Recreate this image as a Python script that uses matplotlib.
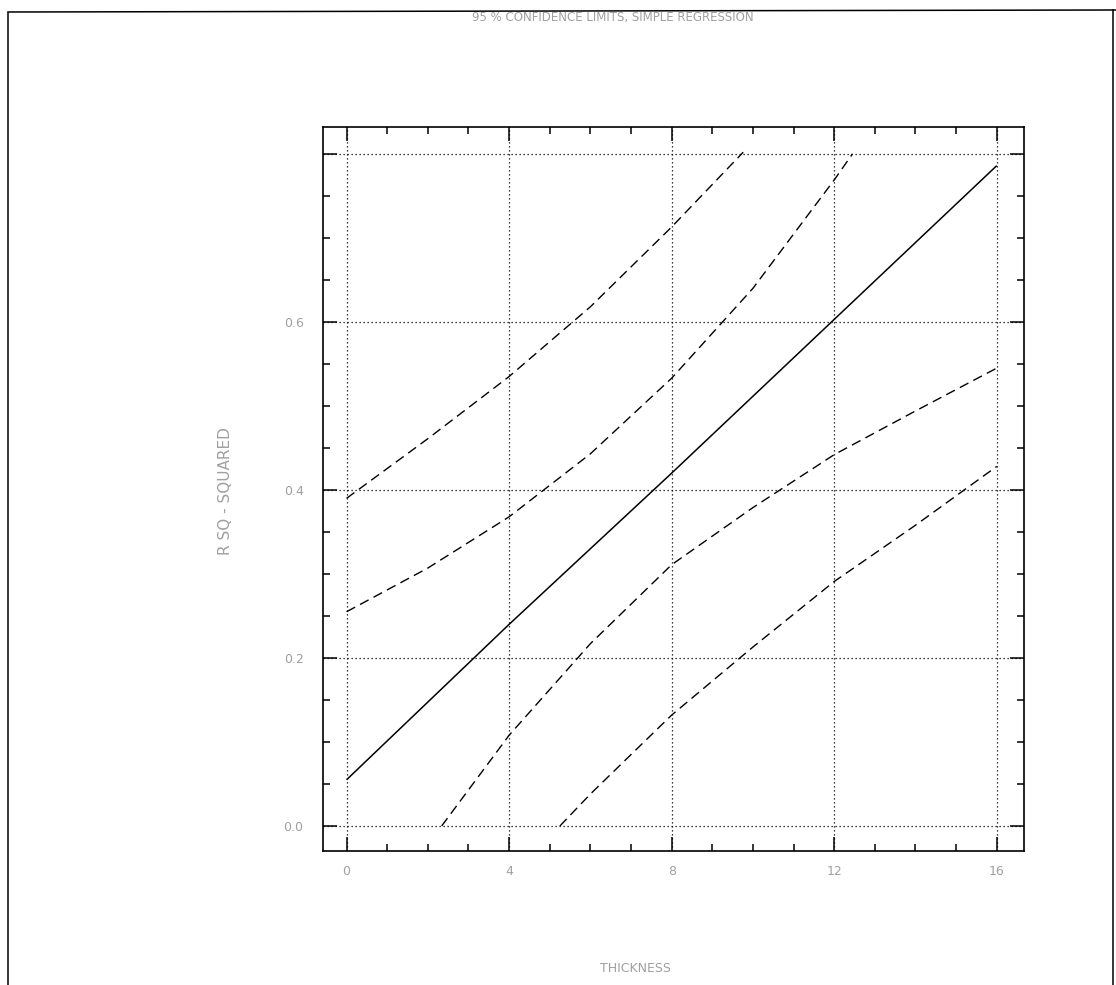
import matplotlib
matplotlib.use("Agg")
import matplotlib.pyplot as plt
from matplotlib.lines import Line2D
from matplotlib.ticker import MultipleLocator

# ---- data ----
fit_x = [0, 4, 8, 12, 16]
fit_y = [0.055, 0.240, 0.420, 0.603, 0.786]

conf_upper_x = [0, 2, 4, 6, 8, 10, 12, 12.45]
conf_upper_y = [0.255, 0.307, 0.368, 0.443, 0.533, 0.640, 0.769, 0.800]

conf_lower_x = [2.34, 4, 6, 8, 10, 12, 14, 16]
conf_lower_y = [0.0, 0.108, 0.217, 0.311, 0.379, 0.442, 0.494, 0.545]

pred_upper_x = [0, 2, 4, 6, 8, 9.76]
pred_upper_y = [0.390, 0.461, 0.535, 0.618, 0.713, 0.802]

pred_lower_x = [5.25, 6, 8, 10, 12, 14, 16]
pred_lower_y = [0.0, 0.038, 0.132, 0.213, 0.291, 0.358, 0.428]

x_ticks = [0, 4, 8, 12, 16]
x_tick_labels = ["0", "4", "8", "12", "16"]
y_ticks = [0.0, 0.2, 0.4, 0.6, 0.8]
y_tick_labels = ["0.0", "0.2", "0.4", "0.6", ""]

title = "95 % CONFIDENCE LIMITS, SIMPLE REGRESSION"
x_label = "THICKNESS"
y_label = "R SQ - SQUARED"

# ---- figure ----
W, H = 1116, 985
fig = plt.figure(figsize=(W / 100, H / 100), dpi=100)
fig.patch.set_facecolor("white")

ax = fig.add_axes([323 / W, 1 - 851 / H, (1024 - 323) / W, (851 - 127) / H])
ax.set_xlim(-0.58, 16.67)
ax.set_ylim(-0.0298, 0.832)

text_color = "#a0a0a0"

ax.plot(fit_x, fit_y, color="black", lw=1.1, solid_capstyle="butt")
dash = dict(color="black", lw=1.0, dashes=(7, 4))
ax.plot(conf_upper_x, conf_upper_y, **dash)
ax.plot(conf_lower_x, conf_lower_y, **dash)
ax.plot(pred_upper_x, pred_upper_y, **dash)
ax.plot(pred_lower_x, pred_lower_y, **dash)

ax.set_xticks(x_ticks)
ax.set_xticklabels(x_tick_labels)
ax.set_yticks(y_ticks)
ax.set_yticklabels(y_tick_labels)
ax.xaxis.set_minor_locator(MultipleLocator(1))
ax.yaxis.set_minor_locator(MultipleLocator(0.05))

ax.grid(True, which="major", color="black", lw=0.9, linestyle=(0, (1, 2.2)))
ax.tick_params(which="both", direction="in", top=True, right=True,
               color="black", width=1.1)
ax.tick_params(which="major", length=10)
ax.tick_params(which="minor", length=5)
ax.tick_params(axis="x", which="major", pad=10, labelsize=9, labelcolor=text_color)
ax.tick_params(axis="y", which="major", pad=14, labelsize=9, labelcolor=text_color)

for sp in ax.spines.values():
    sp.set_linewidth(1.2)
    sp.set_color("black")

fig.text(613 / W, 1 - 17 / H, title, ha="center", va="center",
         fontsize=8.5, color=text_color)
fig.text(635 / W, 1 - 968 / H, x_label, ha="center", va="center",
         fontsize=9, color=text_color)
fig.text(225 / W, 1 - 491 / H, y_label, ha="center", va="center",
         rotation=90, fontsize=11, color=text_color)

# page border
def fline(x0, y0, x1, y1):
    fig.add_artist(Line2D([x0 / W, x1 / W], [1 - y0 / H, 1 - y1 / H],
                          transform=fig.transFigure, color="black", lw=1.1))

fline(8, 13, 8, 985)
fline(8, 12, 1116, 10)
fline(1113, 10, 1113, 985)

fig.savefig("out.png", dpi=100)
